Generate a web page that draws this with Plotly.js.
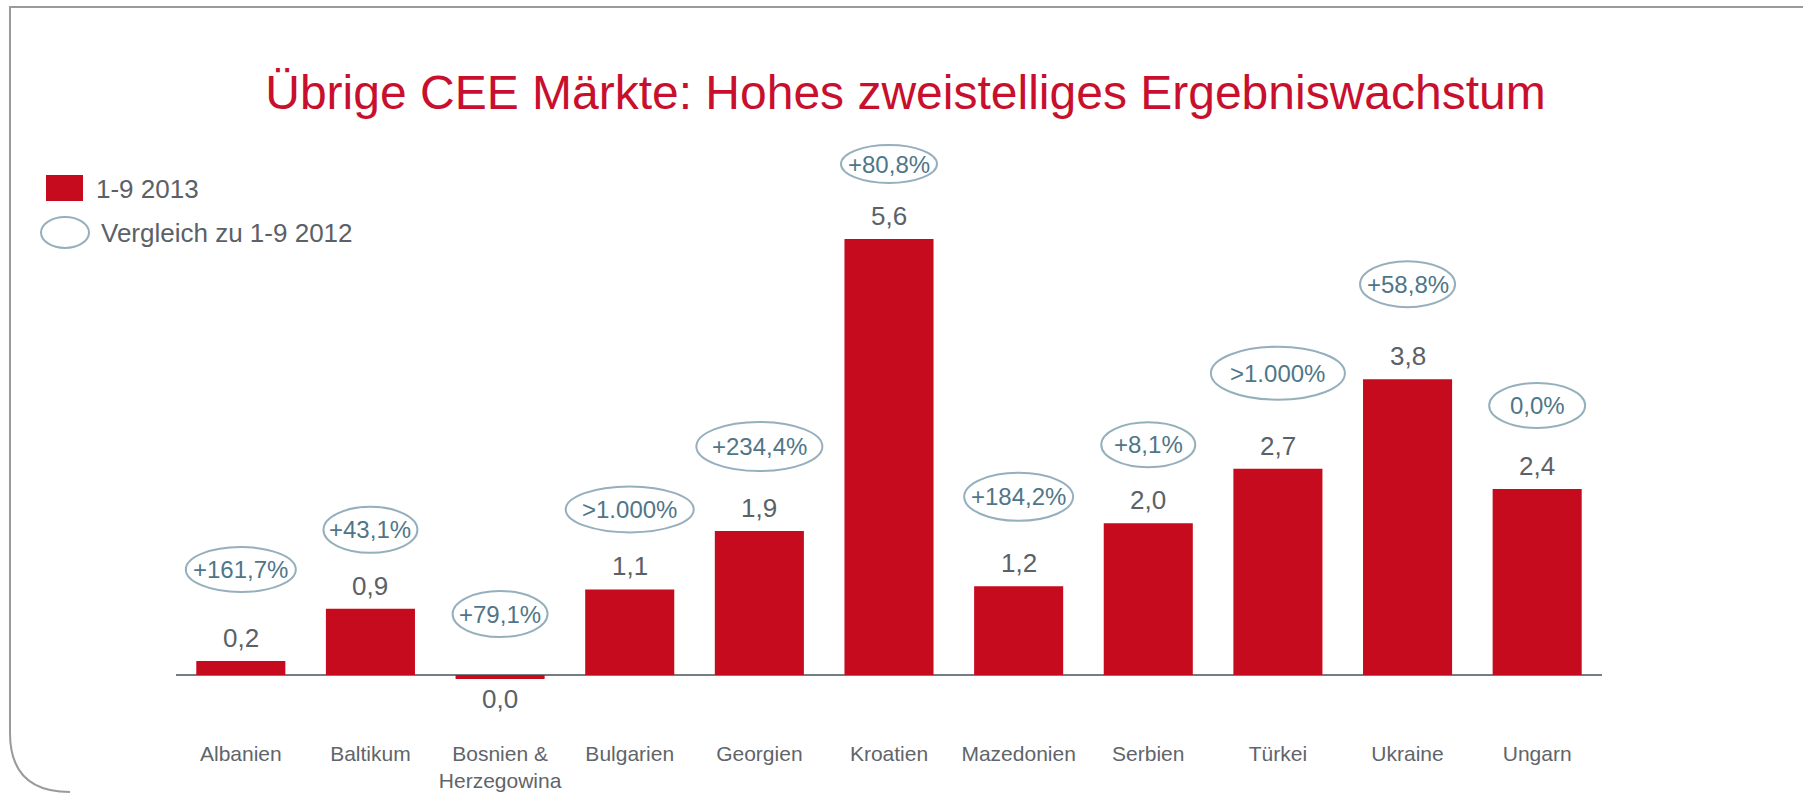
<!DOCTYPE html>
<html>
<head>
<meta charset="utf-8">
<script src="https://cdn.plot.ly/plotly-3.0.1.min.js"></script>
<style>
  html, body { margin: 0; padding: 0; background: #ffffff; }
  #chart { width: 1803px; height: 794px; }
</style>
</head>
<body>
<div id="chart"></div>
<script>
// ---- Data ----
const categories = ["Albanien", "Baltikum", "Bosnien &<br>Herzegowina", "Bulgarien", "Georgien",
  "Kroatien", "Mazedonien", "Serbien", "Türkei", "Ukraine", "Ungarn"];
const values2013 = [0.18, 0.85, -0.05, 1.10, 1.85, 5.60, 1.14, 1.95, 2.65, 3.80, 2.39];
const valueLabels = ["0,2", "0,9", "0,0", "1,1", "1,9", "5,6", "1,2", "2,0", "2,7", "3,8", "2,4"];
const changeLabels = ["+161,7%", "+43,1%", "+79,1%", ">1.000%", "+234,4%", "+80,8%",
  "+184,2%", "+8,1%", ">1.000%", "+58,8%", "0,0%"];
const legendNames = ["1-9 2013", "Vergleich zu 1-9 2012"];
const titleText = "Übrige CEE Märkte: Hohes zweistelliges Ergebniswachstum";

// ---- Styling (pixel nudges for the change ellipses, as placed in the original slide) ----
const ellipseStyle = {
  shift: [91.5, 79, 61, 80, 84.5, 75, 89.5, 78.5, 95.5, 95, 83.5],
  w: [110, 94, 95, 128, 126, 96, 109, 94, 134, 95, 96],
  h: [45, 46, 46, 46, 49, 38, 48, 45, 53, 46, 45]
};

const RED = "#c60b1e";
const TXT = "#5b6166";
const BLUE_TXT = "#4f7688";
const ELL = "#95afbd";
const FONT = "Arial, 'Liberation Sans', sans-serif";

const W = 1803, H = 794;
const M = { l: 176, r: 201, t: 130, b: 59 };
const pw = W - M.l - M.r, ph = H - M.t - M.b;
const PX = (px) => (px - M.l) / pw;
const PY = (py) => (H - M.b - py) / ph;

const trace = {
  type: "bar",
  x: categories,
  y: values2013,
  marker: { color: RED, line: { width: 0 } },
  hoverinfo: "skip",
  showlegend: false,
  cliponaxis: false
};

const annotations = [];
const shapes = [];

categories.forEach((c, i) => {
  const v = values2013[i];
  // value labels
  annotations.push({
    x: i, y: v, xref: "x", yref: "y",
    text: valueLabels[i], showarrow: false,
    yanchor: "middle", xanchor: "center",
    yshift: v >= 0 ? 23 : -20,
    font: { family: FONT, size: 26, color: TXT }
  });
  // change ellipses
  const anchor = Math.max(v, 0);
  const s = ellipseStyle.shift[i], w = ellipseStyle.w[i], h = ellipseStyle.h[i];
  shapes.push({
    type: "circle", xref: "x", yref: "y",
    xsizemode: "pixel", ysizemode: "pixel",
    xanchor: i, yanchor: anchor,
    x0: -w / 2, x1: w / 2, y0: s - h / 2, y1: s + h / 2,
    line: { color: ELL, width: 2 }, fillcolor: "rgba(0,0,0,0)"
  });
  annotations.push({
    x: i, y: anchor, xref: "x", yref: "y",
    text: changeLabels[i], showarrow: false,
    yanchor: "middle", xanchor: "center", yshift: s,
    font: { family: FONT, size: 24, color: BLUE_TXT }
  });
});

// legend (drawn manually to match the slide)
shapes.push({
  type: "rect", xref: "paper", yref: "paper",
  x0: PX(46), x1: PX(83), y0: PY(201), y1: PY(175),
  fillcolor: RED, line: { width: 0 }
});
shapes.push({
  type: "circle", xref: "paper", yref: "paper",
  x0: PX(41), x1: PX(89), y0: PY(248), y1: PY(217),
  line: { color: ELL, width: 2 }, fillcolor: "rgba(0,0,0,0)"
});
annotations.push({
  xref: "paper", yref: "paper", x: PX(94), y: PY(189),
  xanchor: "left", yanchor: "middle", showarrow: false,
  text: legendNames[0], font: { family: FONT, size: 26, color: TXT }
});
annotations.push({
  xref: "paper", yref: "paper", x: PX(99), y: PY(233),
  xanchor: "left", yanchor: "middle", showarrow: false,
  text: legendNames[1], font: { family: FONT, size: 26, color: TXT }
});

// slide frame
shapes.push({
  type: "path", xref: "paper", yref: "paper",
  path: `M ${PX(1803)} ${PY(7)} L ${PX(10)} ${PY(7)} L ${PX(10)} ${PY(733)} Q ${PX(10)} ${PY(792)} ${PX(70)} ${PY(792)}`,
  line: { color: "#9a9a9a", width: 2 }
});

const layout = {
  width: W, height: H,
  margin: M,
  paper_bgcolor: "#ffffff",
  plot_bgcolor: "#ffffff",
  bargap: 0.313,
  title: {
    text: titleText,
    xref: "container", yref: "container",
    x: 905.5 / W, xanchor: "center",
    y: 1 - 92 / H, yanchor: "middle",
    font: { family: FONT, size: 48, color: "#c8102e" }
  },
  xaxis: {
    type: "category",
    showgrid: false, showline: false, ticks: "",
    ticklabelstandoff: 4,
    tickfont: { family: FONT, size: 21, color: "#5f656a" },
    fixedrange: true
  },
  yaxis: {
    range: [-0.77, 7.0],
    showgrid: false, showticklabels: false, ticks: "",
    zeroline: true, zerolinecolor: "#777c80", zerolinewidth: 2,
    fixedrange: true
  },
  shapes: shapes,
  annotations: annotations,
  showlegend: false
};

Plotly.newPlot("chart", [trace], layout, { displayModeBar: false, staticPlot: true });
</script>
</body>
</html>
